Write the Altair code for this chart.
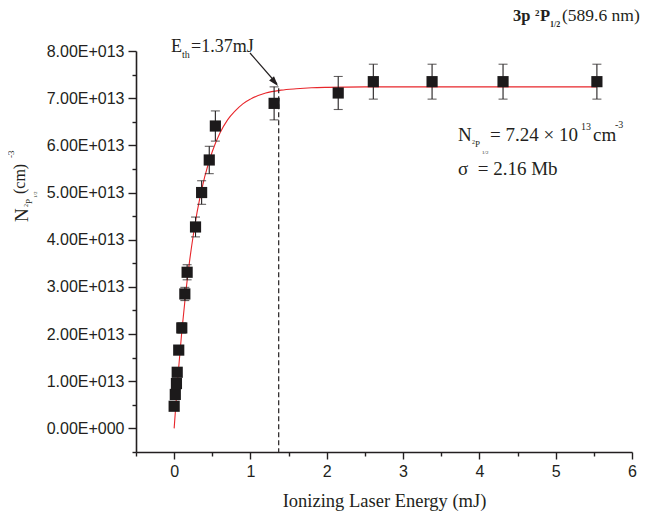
import altair as alt
import pandas as pd

# ---- data (N in units of 1e13 cm^-3) ----
energy = [0.0, 0.015, 0.03, 0.04, 0.06, 0.10, 0.14, 0.17, 0.28, 0.36, 0.46, 0.54, 1.31, 2.15, 2.61, 3.38, 4.31, 5.54]
density = [0.47, 0.72, 0.95, 1.19, 1.66, 2.13, 2.85, 3.31, 4.27, 5.00, 5.69, 6.41, 6.89, 7.11, 7.35, 7.35, 7.35, 7.35]
errors = [0.02, 0.04, 0.05, 0.06, 0.08, 0.11, 0.14, 0.16, 0.21, 0.25, 0.29, 0.32, 0.35, 0.35, 0.37, 0.37, 0.37, 0.37]

fit_energy = [0, 0.05, 0.1, 0.15, 0.2, 0.25, 0.3, 0.4, 0.5, 0.6, 0.7, 0.8, 0.9, 1.0, 1.2, 1.4, 1.6, 1.8, 2.0, 2.5, 3.0, 4.0, 5.54]
fit_density = [0, 1.11, 2.05, 2.85, 3.52, 4.09, 4.58, 5.33, 5.87, 6.26, 6.54, 6.73, 6.88, 6.98, 7.11, 7.17, 7.20, 7.22, 7.23, 7.24, 7.24, 7.24, 7.24]

e_threshold = [1.37]
threshold_top = [7.21]

x_major = [0, 1, 2, 3, 4, 5, 6]
x_minor = [-0.5, 0.5, 1.5, 2.5, 3.5, 4.5, 5.5]
y_major = [0, 1, 2, 3, 4, 5, 6, 7, 8]
y_minor = [-0.5, 0.5, 1.5, 2.5, 3.5, 4.5, 5.5, 6.5, 7.5]

df = pd.DataFrame({"E": energy, "N": density, "err": errors})
df["lo"] = df["N"] - df["err"]
df["hi"] = df["N"] + df["err"]
fit = pd.DataFrame({"E": fit_energy, "N": fit_density})
thr = pd.DataFrame({"E": e_threshold, "top": threshold_top, "bottom": [-0.5]})

INK = "#231f20"
SERIF = "Liberation Serif"
SANS = "Liberation Sans"

xscale = alt.Scale(domain=[-0.5, 6], nice=False, zero=False)
yscale = alt.Scale(domain=[-0.5, 8], nice=False, zero=False)

x_axis = alt.Axis(
    values=x_major, grid=False, title="Ionizing Laser Energy (mJ)", orient="bottom",
    tickSize=7, labelFont=SANS, labelFontSize=16, labelColor=INK, labelPadding=4,
    labelOverlap=False, labelFlush=False,
    titleFont=SERIF, titleFontSize=18.5, titleFontWeight="normal", titleColor=INK, titlePadding=12,
    domainColor=INK, domainWidth=1.6, tickColor=INK, tickWidth=1.4,
)
y_axis = alt.Axis(
    values=y_major, grid=False, title=None, orient="left",
    labelExpr="datum.value === 0 ? '0.00E+000' : format(datum.value, '.2f') + 'E+013'",
    tickSize=8, labelFont=SANS, labelFontSize=16, labelColor=INK, labelPadding=4,
    labelOverlap=False, labelFlush=False,
    domainColor=INK, domainWidth=1.6, tickColor=INK, tickWidth=1.4,
)
x_minor_axis = alt.Axis(
    values=x_minor, grid=False, title=None, orient="bottom", labels=False, domain=False,
    tickSize=4, tickColor=INK, tickWidth=1.4,
)
y_minor_axis = alt.Axis(
    values=y_minor, grid=False, title=None, orient="left", labels=False, domain=False,
    tickSize=4, tickColor=INK, tickWidth=1.4,
)

base = alt.Chart(df)

curve = alt.Chart(fit).mark_line(color="#e8262b", strokeWidth=1.1, interpolate="monotone").encode(
    x=alt.X("E:Q", scale=xscale, axis=x_axis),
    y=alt.Y("N:Q", scale=yscale, axis=y_axis),
)
minor = alt.Chart(fit).mark_line(opacity=0).encode(
    x=alt.X("E:Q", scale=xscale, axis=x_minor_axis),
    y=alt.Y("N:Q", scale=yscale, axis=y_minor_axis),
)

dashed = alt.Chart(thr).mark_rule(color=INK, strokeDash=[5, 3], strokeWidth=1.2).encode(
    x=alt.X("E:Q", scale=xscale, axis=None), y=alt.Y("top:Q", scale=yscale, axis=None), y2="bottom:Q"
)

bars = base.mark_rule(color=INK, strokeWidth=1.1).encode(
    x=alt.X("E:Q", scale=xscale, axis=None), y=alt.Y("lo:Q", scale=yscale, axis=None), y2="hi:Q")
cap_lo = base.mark_tick(orient="horizontal", color=INK, size=9, thickness=1.1).encode(
    x=alt.X("E:Q", scale=xscale, axis=None), y=alt.Y("lo:Q", scale=yscale, axis=None))
cap_hi = base.mark_tick(orient="horizontal", color=INK, size=9, thickness=1.1).encode(
    x=alt.X("E:Q", scale=xscale, axis=None), y=alt.Y("hi:Q", scale=yscale, axis=None))
points = base.mark_square(color="#1c1a1b", size=125, opacity=1).encode(
    x=alt.X("E:Q", scale=xscale, axis=None), y=alt.Y("N:Q", scale=yscale, axis=None))

OX, OY = 136, 51  # plot origin in page pixels


def txt(text, px, py, size, weight="normal", angle=0, font=SERIF):
    return alt.Chart(pd.DataFrame({"t": [text]})).mark_text(
        font=font, fontSize=size, fontWeight=weight, color=INK,
        align="left", baseline="alphabetic", angle=angle,
    ).encode(x=alt.value(px - OX), y=alt.value(py - OY), text="t:N")


labels = [
    # title
    txt("3p", 513, 21, 16.5, "bold"),
    txt("2", 535, 16, 9, "bold"),
    txt("P", 540, 21, 16.5, "bold"),
    txt("1/2", 550, 27, 8, "bold"),
    txt("(589.6 nm)", 562, 21, 17.5),
    # threshold annotation
    txt("E", 171, 52, 18),
    txt("th", 182, 58, 10),
    txt("=1.37mJ", 191, 52, 18),
    # fit results
    txt("N", 458, 141, 19),
    txt("2", 472, 144, 6),
    txt("P", 475, 147, 9),
    txt("1/2", 482, 154, 5),
    txt("= 7.24 \u00d7 10", 490, 141, 19),
    txt("13", 581, 130, 10),
    txt("cm", 593, 141, 19),
    txt("-3", 615, 128, 10),
    txt("\u03c3\u00a0\u00a0= 2.16 Mb", 458, 175, 19),
    # y axis title (rotated)
    txt("N", 28, 222, 19, angle=270),
    txt("2", 28, 207, 6, angle=270),
    txt("P", 32, 204, 9, angle=270),
    txt("1/2", 37, 198, 5, angle=270),
    txt("(cm)", 25, 194, 16, angle=270),
    txt("-3", 14, 158, 9, angle=270),
]

arrow_line = alt.Chart(pd.DataFrame({"a": [0]})).mark_rule(color=INK, strokeWidth=1.2).encode(
    x=alt.value(250 - OX), y=alt.value(53 - OY), x2=alt.value(277 - OX), y2=alt.value(84 - OY)
)
arrow_head = alt.Chart(pd.DataFrame({"a": [0]})).mark_point(
    shape="M0,0L-0.32,-1L0.32,-1Z", filled=True, color=INK, opacity=1, size=400, angle=320
).encode(x=alt.value(278 - OX), y=alt.value(86 - OY))

chart = alt.layer(
    curve, minor, dashed, bars, cap_lo, cap_hi, points, arrow_line, arrow_head, *labels
).resolve_axis(x="independent", y="independent").properties(
    width=496, height=401,
    autosize=alt.AutoSizeParams(type="none"),
    padding={"left": 128, "top": 43, "right": 16, "bottom": 60},
    background="white",
).configure_view(stroke=None)

chart.save("out.html", embed_options={"renderer": "svg", "actions": False})
